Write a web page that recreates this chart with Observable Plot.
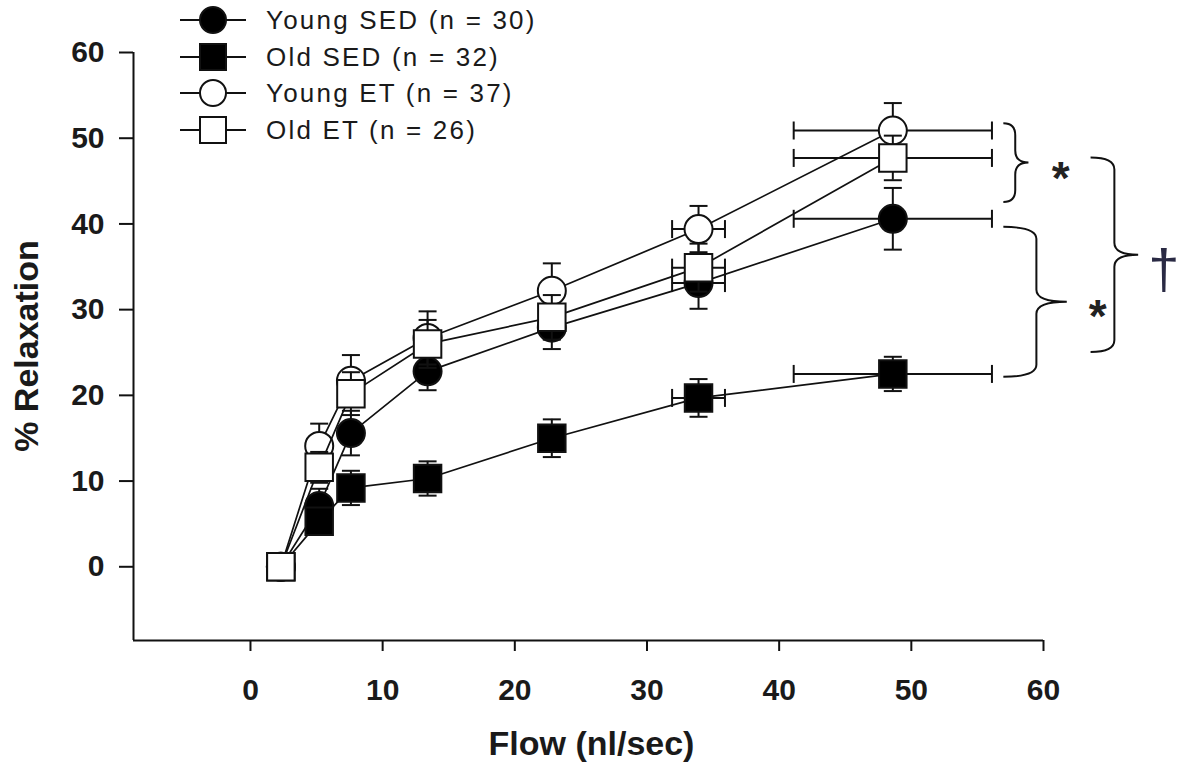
<!DOCTYPE html>
<html>
<head>
<meta charset="utf-8">
<script src="https://cdn.jsdelivr.net/npm/d3@7"></script>
<script src="https://cdn.jsdelivr.net/npm/@observablehq/plot@0.6"></script>
<style>
  body { margin: 0; background: white; }
  #wrap { position: relative; width: 1183px; height: 767px; font-family: "Liberation Sans", Arial, sans-serif; }
  .legend { position: absolute; left: 178px; top: 0px; }
  .row { position: absolute; left: 0; height: 36px; display: flex; align-items: center; white-space: nowrap; }
  .row span { font-size: 26px; letter-spacing: 2.2px; color: #1a1a1a; margin-left: 18px; }
  .xtitle { position: absolute; left: 0; width: 1183px; top: 724px; text-align: center; }
  .title { font-weight: bold; font-size: 34px; color: #1a1a1a; }
  .ytitle { position: absolute; left: 26px; top: 346px; transform: translate(-50%, -50%) rotate(-90deg); white-space: nowrap; }
</style>
</head>
<body>
<div id="wrap"></div>
<script>
// ---- data ----
const flow = [2.3, 5.2, 7.6, 13.4, 22.8, 33.9, 48.6];
const flowErr = [0, 0, 0, 0, 0, 2.0, 7.5];

const groupNames = ["Young SED (n = 30)", "Old SED (n = 32)", "Young ET (n = 37)", "Old ET (n = 26)"];
const groupSymbols = ["circle", "square", "circle", "square"];
const groupFills = ["black", "black", "white", "white"];

const youngSED = [0, 7.1, 15.6, 22.8, 27.9, 33.1, 40.6];
const youngSEDErr = [0, 2.0, 2.6, 2.2, 2.5, 3.0, 3.6];
const oldSED = [0, 5.3, 9.2, 10.3, 15.0, 19.7, 22.5];
const oldSEDErr = [0, 1.2, 2.0, 2.0, 2.2, 2.2, 2.0];
const youngET = [0, 14.1, 21.7, 26.7, 32.2, 39.4, 50.9];
const youngETErr = [0, 2.6, 3.0, 3.1, 3.2, 2.7, 3.2];
const oldET = [0, 11.6, 20.2, 26.0, 29.1, 34.9, 47.7];
const oldETErr = [0, 1.8, 2.5, 2.8, 2.6, 2.8, 2.6];

const xTicks = [0, 10, 20, 30, 40, 50, 60];
const yTicks = [0, 10, 20, 30, 40, 50, 60];
const xMin = -8.85, xMax = 60;
const yMin = -8.6, yMax = 60;

// significance braces (data units)
const braceTop = [51.7, 39.6, 47.7];
const braceBottom = [42.5, 22.1, 25.0];
const braceLeft = [57.0, 57.0, 63.6];
const braceSpine = [57.9, 59.5, 65.4];
const braceTip = [58.9, 61.8, 67.2];

const noteX = [61.3, 64.1, 69.1];
const noteY = [46.2, 30.1, 34.6];
const noteText = ["*", "*", "\u2020"];

// ---- build ----
const seriesY = [youngSED, oldSED, youngET, oldET];
const seriesErr = [youngSEDErr, oldSEDErr, youngETErr, oldETErr];

const hCap = { draw(ctx, size) { ctx.moveTo(-9, 0); ctx.lineTo(9, 0); } };
const vCap = { draw(ctx, size) { ctx.moveTo(0, -9); ctx.lineTo(0, 9); } };

const ink = "#111";
const marks = [];
marks.push(Plot.ruleX([xMin], { stroke: ink, strokeWidth: 2 }));
marks.push(Plot.ruleY([yMin], { stroke: ink, strokeWidth: 2 }));
marks.push(Plot.axisX(xTicks, { tickSize: 11, tickPadding: 27, fontSize: 30, fontWeight: "bold", label: null, stroke: ink, strokeWidth: 2, fill: "#1a1a1a" }));
marks.push(Plot.axisY(yTicks, { tickSize: 14, tickPadding: 15, fontSize: 30, fontWeight: "bold", label: null, stroke: ink, strokeWidth: 2, fill: "#1a1a1a" }));

seriesY.forEach((ys, g) => {
  const rows = flow.map((f, i) => ({ x: f, y: ys[i], e: seriesErr[g][i], xe: flowErr[i] }));
  const ey = rows.filter(d => d.e > 0);
  const ex = rows.filter(d => d.xe > 0);
  marks.push(Plot.line(rows, { x: "x", y: "y", stroke: ink, strokeWidth: 1.7 }));
  marks.push(Plot.ruleX(ey, { x: "x", y1: d => d.y - d.e, y2: d => d.y + d.e, stroke: ink, strokeWidth: 2 }));
  marks.push(Plot.dot(ey, { x: "x", y: d => d.y + d.e, symbol: hCap, r: 5, stroke: ink, strokeWidth: 2, fill: "none" }));
  marks.push(Plot.dot(ey, { x: "x", y: d => d.y - d.e, symbol: hCap, r: 5, stroke: ink, strokeWidth: 2, fill: "none" }));
  marks.push(Plot.ruleY(ex, { y: "y", x1: d => d.x - d.xe, x2: d => d.x + d.xe, stroke: ink, strokeWidth: 2 }));
  marks.push(Plot.dot(ex, { x: d => d.x - d.xe, y: "y", symbol: vCap, r: 5, stroke: ink, strokeWidth: 2, fill: "none" }));
  marks.push(Plot.dot(ex, { x: d => d.x + d.xe, y: "y", symbol: vCap, r: 5, stroke: ink, strokeWidth: 2, fill: "none" }));
  const isSq = groupSymbols[g] === "square";
  marks.push(Plot.dot(rows, { x: "x", y: "y", symbol: groupSymbols[g], r: isSq ? 15.5 : 14, fill: groupFills[g], stroke: ink, strokeWidth: 2 }));
});

// braces
braceTop.forEach((t, i) => {
  marks.push((index, scales) => {
    const x = scales.x, y = scales.y;
    const xl = x(braceLeft[i]), xs = x(braceSpine[i]), xt = x(braceTip[i]);
    const yt = y(t), yb = y(braceBottom[i]), ym = (yt + yb) / 2;
    const r = 12;
    const p = `M${xl},${yt} Q${xs},${yt} ${xs},${yt + r} L${xs},${ym - r} Q${xs},${ym} ${xt},${ym} Q${xs},${ym} ${xs},${ym + r} L${xs},${yb - r} Q${xs},${yb} ${xl},${yb}`;
    const path = document.createElementNS("http://www.w3.org/2000/svg", "path");
    path.setAttribute("d", p);
    path.setAttribute("fill", "none");
    path.setAttribute("stroke", ink);
    path.setAttribute("stroke-width", "2");
    return path;
  });
});

const notes = noteX.map((x, i) => ({ x, y: noteY[i], t: noteText[i] }));
marks.push(Plot.text(notes.filter(d => d.t === "*"), { x: "x", y: "y", text: "t", fontSize: 46, fontWeight: "bold", fill: "#222", dy: 8 }));
marks.push(Plot.text(notes.filter(d => d.t !== "*"), { x: "x", y: "y", text: "t", fontSize: 56, fill: "#2a2a44" }));

const plot = Plot.plot({
  width: 1183, height: 767,
  marginLeft: 133, marginRight: 140, marginTop: 52, marginBottom: 127,
  x: { domain: [xMin, xMax] },
  y: { domain: [yMin, yMax] },
  style: { fontFamily: "'Liberation Sans', Arial, sans-serif", background: "white", color: ink, overflow: "visible" },
  marks
});

const wrap = document.getElementById("wrap");
wrap.appendChild(plot);

// legend
const legend = document.createElement("div");
legend.className = "legend";
const rowTops = [2, 39, 75, 112];
groupNames.forEach((name, g) => {
  const row = document.createElement("div");
  row.className = "row";
  row.style.top = rowTops[g] + "px";
  const sq = groupSymbols[g] === "square";
  const shape = sq
    ? `<rect x="22" y="4" width="26" height="26" fill="${groupFills[g]}" stroke="${ink}" stroke-width="2"/>`
    : `<circle cx="35" cy="17" r="13" fill="${groupFills[g]}" stroke="${ink}" stroke-width="2"/>`;
  row.innerHTML = `<svg width="70" height="34"><line x1="2" x2="68" y1="17" y2="17" stroke="${ink}" stroke-width="2"/>${shape}</svg><span>${name}</span>`;
  legend.appendChild(row);
});
wrap.appendChild(legend);

const xt = document.createElement("div");
xt.className = "xtitle title";
xt.textContent = "Flow (nl/sec)";
wrap.appendChild(xt);
const yt = document.createElement("div");
yt.className = "ytitle title";
yt.textContent = "% Relaxation";
wrap.appendChild(yt);
</script>
</body>
</html>
